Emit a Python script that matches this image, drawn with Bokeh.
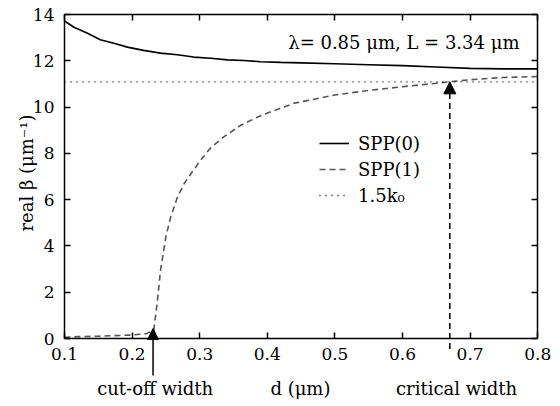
import math
from bokeh.plotting import figure
from bokeh.models import (Range1d, FixedTicker, LinearAxis, Legend, LegendItem,
                          Label, Arrow, NormalHead)
from bokeh.embed import file_html
from bokeh.resources import INLINE

# ---- data ----
d0 = [0.1, 0.114, 0.134, 0.153, 0.173, 0.193, 0.217, 0.242, 0.267, 0.291, 0.316, 0.341,
      0.365, 0.39, 0.42, 0.45, 0.5, 0.55, 0.6, 0.65, 0.7, 0.75, 0.8]
spp0 = [13.72, 13.45, 13.19, 12.91, 12.76, 12.59, 12.45, 12.33, 12.26, 12.16, 12.11, 12.04,
        12.01, 11.96, 11.93, 11.91, 11.87, 11.83, 11.79, 11.73, 11.67, 11.65, 11.65]

d1 = [0.1, 0.12, 0.15, 0.2, 0.22, 0.232, 0.237, 0.242, 0.25, 0.257, 0.267, 0.277, 0.287,
      0.3, 0.315, 0.335, 0.36, 0.385, 0.41, 0.44, 0.5, 0.55, 0.6, 0.65, 0.7, 0.75, 0.8]
spp1 = [0.05, 0.08, 0.1, 0.15, 0.2, 0.35, 1.5, 2.94, 4.4, 5.24, 6.1, 6.69, 7.12,
        7.65, 8.2, 8.7, 9.2, 9.56, 9.85, 10.17, 10.52, 10.72, 10.88, 11.03, 11.18, 11.28, 11.32]

dk = [0.1, 0.8]
k15 = [11.09, 11.09]

x_ticks = [0.1, 0.2, 0.3, 0.4, 0.5, 0.6, 0.7, 0.8]
y_ticks = [0, 2, 4, 6, 8, 10, 12, 14]

cutoff_d = 0.231
critical_d = 0.67

FONT = "DejaVu Serif"
TICK_FS = "17px"
FS = "18px"
INK = "black"

# frame: 542 px wide starting at x=10, 402 px high starting at y=2
PX_X = 676.0          # px per unit of d
XMIN = 0.1 - 54 / PX_X
XMAX = XMIN + 542 / PX_X
PX_Y = 324 / 14.0     # px per unit of beta
YMAX = 14 + 12 / PX_Y
YMIN = YMAX - 402 / PX_Y

p = figure(width=552, height=404, output_backend="svg", toolbar_location=None,
           x_range=Range1d(XMIN, XMAX), y_range=Range1d(YMIN, YMAX),
           min_border_left=10, min_border_right=0, min_border_top=2, min_border_bottom=0)
p.grid.visible = False
p.outline_line_color = None

xa = p.xaxis[0]
ya = p.yaxis[0]
xa.fixed_location = 0
xa.bounds = (0.1, 0.8)
ya.fixed_location = 0.1
ya.bounds = (0, 14)
for ax in (xa, ya):
    ax.major_tick_in = 6
    ax.major_tick_out = 0
    ax.minor_tick_in = 0
    ax.minor_tick_out = 0
    ax.axis_line_width = 1.5
    ax.axis_line_color = INK
    ax.major_tick_line_color = INK
    ax.major_tick_line_width = 1.5
    ax.major_label_text_font = FONT
    ax.major_label_text_font_size = TICK_FS
    ax.major_label_text_color = INK

xa.ticker = FixedTicker(ticks=x_ticks)
ya.ticker = FixedTicker(ticks=y_ticks)
xa.major_label_standoff = 9
ya.major_label_standoff = 10

top = LinearAxis(ticker=FixedTicker(ticks=[], minor_ticks=x_ticks), major_tick_in=0, major_tick_out=0,
                 minor_tick_in=6, minor_tick_out=0, axis_line_width=1.5, minor_tick_line_width=1.5,
                 axis_line_color=INK, minor_tick_line_color=INK,
                 bounds=(0.1, 0.8), fixed_location=14)
right = LinearAxis(ticker=FixedTicker(ticks=[], minor_ticks=y_ticks), major_tick_in=0, major_tick_out=0,
                   minor_tick_in=6, minor_tick_out=0, axis_line_width=1.5, minor_tick_line_width=1.5,
                   axis_line_color=INK, minor_tick_line_color=INK,
                   bounds=(0, 14), fixed_location=0.8)
p.add_layout(top, "above")
p.add_layout(right, "right")

r0 = p.line(d0, spp0, line_color="black", line_width=1.6)
r1 = p.line(d1, spp1, line_color="#555555", line_width=1.6, line_dash="6 4")
rk = p.line(dk, k15, line_color="black", line_width=1.4, line_dash="1 5")

legend = Legend(items=[LegendItem(label="SPP(0)", renderers=[r0]),
                       LegendItem(label="SPP(1)", renderers=[r1]),
                       LegendItem(label="1.5k₀", renderers=[rk])],
                location=(309, 196), border_line_color=None, background_fill_alpha=0,
                glyph_width=30, label_standoff=9, spacing=0, padding=0, margin=0,
                label_text_font=FONT, label_text_font_size=FS, label_text_color=INK,
                label_height=26, glyph_height=26)
p.add_layout(legend, "center")

def add_text(x, y, text, **kw):
    p.add_layout(Label(x=x, y=y, text=text, text_font=FONT, text_font_size=FS,
                       text_color=INK, text_align="center", text_baseline="middle", **kw))

add_text(0.602, 12.79, "λ= 0.85 μm, L = 3.34 μm")
add_text(0.1 - 38 / PX_X, 7.15, "real β (μm⁻¹)", angle=math.pi / 2)

# arrows
p.add_layout(Arrow(end=NormalHead(size=11, fill_color=INK, line_color=INK),
                   x_start=cutoff_d, y_start=-1.6, x_end=cutoff_d, y_end=0.43,
                   line_width=1.5, line_color=INK))
p.add_layout(Arrow(end=NormalHead(size=12, fill_color=INK, line_color=INK),
                   x_start=critical_d, y_start=-0.45, x_end=critical_d, y_end=11.09,
                   line_width=1.5, line_color=INK, line_dash="6 4"))

add_text(0.234, -2.16, "cut-off width")
add_text(0.68, -2.16, "critical width")
add_text(0.449, -2.16, "d (μm)")

open("out.html", "w").write(file_html(p, INLINE))
